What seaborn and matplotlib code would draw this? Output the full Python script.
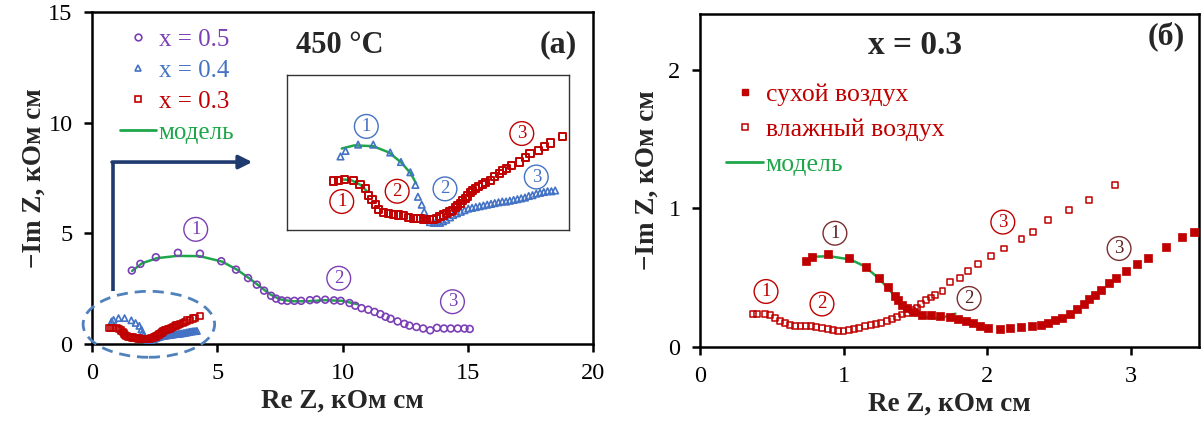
import numpy as np
import matplotlib
matplotlib.use('Agg')
import matplotlib.pyplot as plt
from matplotlib.patches import Ellipse
from matplotlib.lines import Line2D
import seaborn as sns

# ---- data (kOhm cm) ----
# panel (a), 450 C
re05 = [1.59, 1.93, 2.55, 3.43, 4.31, 5.16, 5.75, 6.23, 6.58, 6.87, 7.15, 7.35, 7.57, 7.80,
        8.08, 8.35, 8.70, 8.97, 9.31, 9.66, 9.93, 10.28, 10.51, 10.76, 11.03, 11.28, 11.51,
        11.72, 11.92, 12.20, 12.47, 12.67, 12.95, 13.22, 13.50, 13.77, 14.05, 14.32, 14.60,
        14.87, 15.08]
im05 = [3.32, 3.62, 3.92, 4.12, 4.08, 3.74, 3.36, 2.98, 2.68, 2.41, 2.18, 2.05, 1.97, 1.95,
        1.95, 1.95, 1.98, 2.01, 2.00, 1.97, 1.95, 1.85, 1.73, 1.62, 1.55, 1.45, 1.35,
        1.23, 1.14, 1.02, 0.91, 0.83, 0.77, 0.70, 0.62, 0.73, 0.70, 0.70, 0.70,
        0.70, 0.68]
re05_fit = [1.6, 2.0, 2.6, 3.4, 4.3, 5.2, 5.8, 6.3, 6.7, 7.1, 7.5, 8.0, 8.6, 9.3, 10.0, 10.6]
im05_fit = [3.3, 3.65, 3.88, 3.98, 3.97, 3.72, 3.35, 2.95, 2.6, 2.25, 2.02, 1.93, 1.93, 1.98, 1.95, 1.8]

re04 = [0.78, 0.86, 1.06, 1.30, 1.57, 1.74, 1.89, 1.97, 2.01, 2.07, 2.11, 2.14,
        2.20, 2.26, 2.31, 2.36, 2.41, 2.46, 2.52, 2.57, 2.63, 2.69, 2.75, 2.81, 2.87, 2.93,
        2.99, 3.05, 3.11, 3.17, 3.23, 3.29, 3.35, 3.41, 3.47, 3.53, 3.59, 3.65, 3.71, 3.77,
        3.83, 3.89, 3.95, 4.01, 4.07, 4.13, 4.19]
im04 = [1.02, 1.09, 1.17, 1.17, 1.07, 0.95, 0.82, 0.66, 0.51, 0.41, 0.32, 0.24,
        0.19, 0.18, 0.18, 0.18, 0.20, 0.22, 0.25, 0.28, 0.30, 0.32, 0.34, 0.36, 0.37, 0.38,
        0.39, 0.40, 0.41, 0.42, 0.43, 0.44, 0.45, 0.45, 0.46, 0.47, 0.48, 0.49, 0.50, 0.52,
        0.53, 0.55, 0.56, 0.57, 0.58, 0.58, 0.59]
re04_fit = [0.80, 1.0, 1.3, 1.55, 1.75, 1.9, 1.98]
im04_fit = [1.12, 1.16, 1.15, 1.07, 0.94, 0.80, 0.68]

re03 = [0.67, 0.75, 0.84, 0.98, 1.09, 1.17, 1.23, 1.28, 1.33, 1.38, 1.46, 1.54, 1.62, 1.70,
        1.78, 1.86, 1.94, 2.00, 2.05, 2.10, 2.15, 2.20, 2.25, 2.30, 2.36, 2.42, 2.47, 2.52,
        2.56, 2.60, 2.64, 2.68, 2.72, 2.76, 2.80, 2.84, 2.88, 2.92, 2.97, 3.03, 3.09, 3.16,
        3.23, 3.30, 3.36, 3.42, 3.50, 3.63, 3.72, 3.79, 3.92, 4.02, 4.11, 4.31]
im03 = [0.71, 0.72, 0.73, 0.72, 0.67, 0.61, 0.53, 0.47, 0.41, 0.35, 0.31, 0.30, 0.29, 0.28,
        0.27, 0.25, 0.24, 0.23, 0.23, 0.22, 0.22, 0.22, 0.22, 0.23, 0.26, 0.28, 0.30, 0.32,
        0.34, 0.37, 0.40, 0.43, 0.46, 0.49, 0.52, 0.56, 0.59, 0.62, 0.64, 0.67, 0.69, 0.72,
        0.77, 0.81, 0.84, 0.87, 0.91, 0.95, 1.01, 1.06, 1.10, 1.15, 1.19, 1.27]
re03_fit = [0.80, 0.95, 1.10, 1.20]
im03_fit = [0.73, 0.72, 0.66, 0.58]

# panel (b), x = 0.3
re_dry = [0.74, 0.78, 0.89, 1.04, 1.155, 1.25, 1.31, 1.36, 1.38, 1.41, 1.44, 1.49, 1.55,
          1.61, 1.675, 1.74, 1.80, 1.85, 1.90, 1.95, 2.01, 2.09, 2.16, 2.24, 2.31, 2.375,
          2.425, 2.475, 2.525, 2.575, 2.625, 2.675, 2.71, 2.75, 2.795, 2.85, 2.90, 2.97,
          3.045, 3.12, 3.25, 3.36, 3.44]
im_dry = [0.62, 0.65, 0.67, 0.64, 0.58, 0.50, 0.43, 0.37, 0.34, 0.30, 0.28, 0.25, 0.23,
          0.23, 0.224, 0.217, 0.20, 0.19, 0.17, 0.15, 0.137, 0.133, 0.14, 0.145, 0.15, 0.16,
          0.176, 0.193, 0.212, 0.24, 0.277, 0.313, 0.345, 0.378, 0.414, 0.463, 0.494, 0.547,
          0.598, 0.643, 0.723, 0.795, 0.83]
re_wet = [0.37, 0.40, 0.45, 0.49, 0.525, 0.56, 0.59, 0.625, 0.66, 0.70, 0.74, 0.775, 0.81,
          0.85, 0.89, 0.925, 0.96, 1.0, 1.04, 1.075, 1.11, 1.15, 1.19, 1.225, 1.26, 1.30,
          1.34, 1.375, 1.41, 1.44, 1.475, 1.51, 1.54, 1.575, 1.61, 1.64, 1.69, 1.74, 1.81,
          1.87, 1.94, 2.03, 2.12, 2.24, 2.32, 2.425, 2.57, 2.71, 2.89]
im_wet = [0.24, 0.24, 0.24, 0.23, 0.21, 0.19, 0.17, 0.157, 0.152, 0.152, 0.152, 0.15, 0.145,
          0.137, 0.13, 0.12, 0.116, 0.116, 0.12, 0.13, 0.14, 0.15, 0.157, 0.164, 0.173, 0.188,
          0.20, 0.217, 0.234, 0.248, 0.265, 0.284, 0.308, 0.337, 0.357, 0.373, 0.405, 0.467,
          0.496, 0.55, 0.598, 0.655, 0.71, 0.78, 0.83, 0.916, 0.99, 1.06, 1.17]
re_dry_fit = [0.78, 0.90, 1.05, 1.15, 1.25, 1.33, 1.40, 1.47, 1.55, 1.62, 1.70, 1.78]
im_dry_fit = [0.65, 0.655, 0.63, 0.58, 0.49, 0.40, 0.31, 0.25, 0.22, 0.205, 0.215, 0.24]

PURPLE = '#7b3fb5'
BLUE = '#4472c4'
RED = '#c00000'
GREEN = '#1fa64a'
BROWN = '#7a2e2e'
NAVY = '#1f3a6e'

sns.set_style('white')
plt.rcParams['font.family'] = ['Liberation Serif', 'DejaVu Serif']

fig = plt.figure(figsize=(12.03, 4.21), dpi=100)
W, H = 1203, 421
axA = fig.add_axes([92 / W, 1 - 344 / H, 501 / W, 332 / H])
axB = fig.add_axes([700 / W, 1 - 347 / H, 499 / W, 333 / H])
axI = fig.add_axes([287 / W, 1 - 230 / H, 282 / W, 155 / H])


def hollow(ax, x, y, color, marker, s, lw=1.2, z=3):
    sns.scatterplot(x=x, y=y, ax=ax, marker=marker, s=s, color=color,
                    facecolors='none', edgecolor=color, linewidth=lw, zorder=z)


def circled(ax, x, y, n, color, tcolor=None, fs=13.5):
    ax.text(x, y, str(n), color=tcolor or color, fontsize=fs, ha='center', va='center',
            bbox=dict(boxstyle='circle,pad=0.18', fc='white', ec=color, lw=1.0), zorder=6)


# ---- panel (a) ----
sns.lineplot(x=re05_fit, y=im05_fit, ax=axA, color=GREEN, lw=1.8, sort=False, estimator=None, zorder=2)
hollow(axA, re05, im05, PURPLE, 'o', 24)
hollow(axA, re04, im04, BLUE, '^', 20)
hollow(axA, re03, im03, RED, 's', 20)
axA.set_xlim(0, 20)
axA.set_ylim(0, 15)
axA.set_xticks([0, 5, 10, 15, 20])
axA.set_yticks([0, 5, 10, 15])
axA.set_xlabel('Re Z, кОм см', fontsize=19.5, fontweight='bold', labelpad=3)
axA.set_ylabel('\u2212Im Z, кОм см', fontsize=19.5, fontweight='bold', labelpad=1)

circled(axA, 4.14, 5.18, 1, PURPLE)
circled(axA, 9.85, 2.97, 2, PURPLE)
circled(axA, 14.39, 1.91, 3, PURPLE)

axA.add_patch(Ellipse((2.27, 0.89), 5.25, 2.98, fill=False, ec='#4f81bd', lw=2,
                      ls=(0, (4, 2.5)), clip_on=False, zorder=4))
axA.plot([0.85, 0.85], [2.38, 8.22], color=NAVY, lw=2.6, solid_capstyle='butt')
axA.annotate('', xy=(6.4, 8.22), xytext=(0.80, 8.22),
             arrowprops=dict(arrowstyle='-|>', color=NAVY, lw=2.6, mutation_scale=20,
                             shrinkA=0, shrinkB=0))
axA.text(9.9, 13.5, '450 °C', fontsize=22, fontweight='bold', ha='center', va='center')
axA.text(18.6, 13.5, '(а)', fontsize=23, fontweight='bold', ha='center', va='center')

hA = [Line2D([], [], ls='none', marker='o', mfc='none', mec=PURPLE, ms=4.8, mew=1.2),
      Line2D([], [], ls='none', marker='^', mfc='none', mec=BLUE, ms=4.8, mew=1.2),
      Line2D([], [], ls='none', marker='s', mfc='none', mec=RED, ms=4.8, mew=1.2),
      Line2D([], [], color=GREEN, lw=2)]
axA.legend(hA, ['x = 0.5', 'x = 0.4', 'x = 0.3', 'модель'], loc='upper left',
           bbox_to_anchor=(0.056, 0.950), frameon=False, fontsize=18, handlelength=1.45,
           handletextpad=0.1, labelspacing=0.34, borderpad=0, borderaxespad=0,
           labelcolor=[PURPLE, BLUE, RED, GREEN])

# ---- inset ----
sns.lineplot(x=re04_fit, y=im04_fit, ax=axI, color=GREEN, lw=1.8, sort=False, estimator=None, zorder=2)
sns.lineplot(x=re03_fit, y=im03_fit, ax=axI, color=GREEN, lw=1.8, sort=False, estimator=None, zorder=2)
hollow(axI, re04, im04, BLUE, '^', 22)
hollow(axI, re03, im03, RED, 's', 26, lw=1.4, z=4)
axI.set_xlim(-0.07, 4.41)
axI.set_ylim(0.09, 2.05)
axI.set_xticks([])
axI.set_yticks([])
axI.set_xlabel('')
axI.set_ylabel('')
for sp in axI.spines.values():
    sp.set_color('#333333')
    sp.set_linewidth(1.0)
circled(axI, 1.19, 1.40, 1, BLUE)
circled(axI, 0.80, 0.45, 1, RED)
circled(axI, 1.68, 0.58, 2, RED)
circled(axI, 2.44, 0.61, 2, BLUE)
circled(axI, 3.66, 1.31, 3, RED)
circled(axI, 3.89, 0.76, 3, BLUE)

# ---- panel (b) ----
sns.lineplot(x=re_dry_fit, y=im_dry_fit, ax=axB, color=GREEN, lw=1.8, sort=False, estimator=None, zorder=2)
sns.scatterplot(x=re_dry, y=im_dry, ax=axB, marker='s', s=26, color=RED, edgecolor=RED,
                linewidth=0.5, zorder=3)
hollow(axB, re_wet, im_wet, RED, 's', 18, lw=1.1)
axB.set_xlim(0, 3.477)
axB.set_ylim(0, 2.4)
axB.set_xticks([0, 1, 2, 3])
axB.set_yticks([0, 1, 2])
axB.set_xlabel('Re Z, кОм см', fontsize=19.5, fontweight='bold', labelpad=3)
axB.set_ylabel('\u2212Im Z, кОм см', fontsize=19.5, fontweight='bold', labelpad=6)

circled(axB, 0.46, 0.40, 1, RED)
circled(axB, 0.85, 0.31, 2, RED)
circled(axB, 2.11, 0.90, 3, RED)
circled(axB, 0.94, 0.82, 1, BROWN, '#5a1f1f')
circled(axB, 1.875, 0.35, 2, BROWN, '#5a1f1f')
circled(axB, 2.92, 0.71, 3, BROWN, '#5a1f1f')

axB.text(1.50, 2.17, 'x = 0.3', fontsize=24, fontweight='bold', ha='center', va='center')
axB.text(3.25, 2.24, '(б)', fontsize=23, fontweight='bold', ha='center', va='center')

hB = [Line2D([], [], ls='none', marker='s', mfc=RED, mec=RED, ms=4.8),
      Line2D([], [], ls='none', marker='s', mfc='none', mec=RED, ms=4.8, mew=1.1),
      Line2D([], [], color=GREEN, lw=2)]
axB.legend(hB, ['сухой воздух', 'влажный воздух', 'модель'], loc='upper left',
           bbox_to_anchor=(0.052, 0.794), frameon=False, fontsize=18.5, handlelength=1.45,
           handletextpad=0.1, labelspacing=0.47, borderpad=0, borderaxespad=0,
           labelcolor=[RED, RED, GREEN])

for ax in (axA, axB):
    for sp in ax.spines.values():
        sp.set_color('black')
        sp.set_linewidth(1.8)
    ax.tick_params(axis='both', direction='out', length=6, width=1.8, labelsize=17.5,
                   pad=8, colors='black', bottom=True, left=True)

fig.savefig('out.png', dpi=100)
